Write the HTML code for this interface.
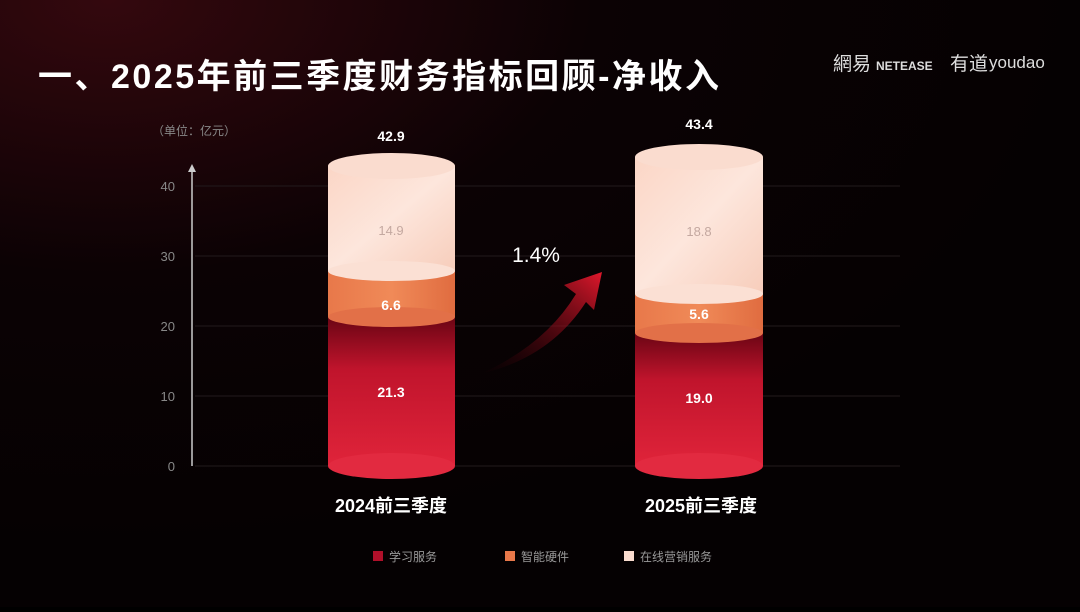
<!DOCTYPE html>
<html><head><meta charset="utf-8"><style>
html,body{margin:0;padding:0;background:#000;}
body{width:1080px;height:607px;overflow:hidden;font-family:"Liberation Sans","Noto Sans CJK SC",sans-serif;}
</style></head><body>
<svg width="1080" height="607" viewBox="0 0 1080 607" xmlns="http://www.w3.org/2000/svg" font-family="Liberation Sans, Noto Sans CJK SC, sans-serif">
<defs>
<radialGradient id="bg" cx="0.1" cy="0.0" r="0.9">
<stop offset="0" stop-color="#34080e"/><stop offset="0.5" stop-color="#0b0204"/><stop offset="1" stop-color="#050102"/></radialGradient>
<linearGradient id="red" x1="0" y1="0" x2="0" y2="1"><stop offset="0" stop-color="#6a0514"/><stop offset="0.35" stop-color="#c0142c"/><stop offset="1" stop-color="#e0243a"/></linearGradient>
<linearGradient id="org" x1="0" y1="0" x2="1" y2="0"><stop offset="0" stop-color="#e8784a"/><stop offset="0.5" stop-color="#f08a58"/><stop offset="1" stop-color="#e06c40"/></linearGradient>
<linearGradient id="pnk" x1="0" y1="0" x2="1" y2="1"><stop offset="0" stop-color="#fbd6c6"/><stop offset="0.5" stop-color="#fde6dc"/><stop offset="1" stop-color="#f7cdbb"/></linearGradient>
<linearGradient id="arr" x1="0" y1="1" x2="1" y2="0"><stop offset="0" stop-color="#3a0008" stop-opacity="0"/><stop offset="1" stop-color="#e0182c"/></linearGradient>
</defs>
<rect width="1080" height="607" fill="url(#bg)"/>
<text x="38" y="88" font-size="34" font-weight="bold" fill="#fff" letter-spacing="2.5">一、2025年前三季度财务指标回顾-净收入</text>
<text x="833" y="70" font-size="19" fill="#ddd">網易</text><text x="876" y="70" font-size="12" font-weight="bold" fill="#ddd">NETEASE</text>
<text x="950" y="70" font-size="19" fill="#ddd">有道</text><text x="989" y="68" font-size="17" fill="#ddd">youdao</text>
<text x="152" y="135" font-size="12" fill="#888">（单位：亿元）</text>
<g stroke="#221a1c" stroke-width="1">
<line x1="195" y1="186" x2="900" y2="186"/><line x1="195" y1="256" x2="900" y2="256"/><line x1="195" y1="326" x2="900" y2="326"/><line x1="195" y1="396" x2="900" y2="396"/><line x1="195" y1="466" x2="900" y2="466"/></g>
<line x1="192" y1="466" x2="192" y2="170" stroke="#ccc" stroke-width="1.5"/><path d="M188,172 L192,164 L196,172Z" fill="#ccc"/>
<g font-size="13" fill="#888" text-anchor="end"><text x="175" y="191">40</text><text x="175" y="261">30</text><text x="175" y="331">20</text><text x="175" y="401">10</text><text x="175" y="471">0</text></g>
<g>
<rect x="328" y="317" width="127" height="149" fill="url(#red)"/><ellipse cx="391.5" cy="466" rx="63.5" ry="13" fill="#e22a40"/>
<rect x="328" y="271" width="127" height="46" fill="url(#org)"/><ellipse cx="391.5" cy="317" rx="63.5" ry="10" fill="#e27048"/>
<rect x="328" y="166" width="127" height="105" fill="url(#pnk)"/><ellipse cx="391.5" cy="271" rx="63.5" ry="10" fill="#fbe0d4"/>
<ellipse cx="391.5" cy="166" rx="63.5" ry="13" fill="#fadccf"/>
</g>
<text x="391" y="141" font-size="14" font-weight="bold" fill="#fff" text-anchor="middle">42.9</text>
<text x="391" y="235" font-size="13" fill="#c4a8a0" text-anchor="middle">14.9</text>
<text x="391" y="310" font-size="14" font-weight="bold" fill="#fff" text-anchor="middle">6.6</text>
<text x="391" y="397" font-size="14" font-weight="bold" fill="#fff" text-anchor="middle">21.3</text>
<g>
<rect x="635" y="333" width="128" height="133" fill="url(#red)"/><ellipse cx="699" cy="466" rx="64" ry="13" fill="#e22a40"/>
<rect x="635" y="294" width="128" height="39" fill="url(#org)"/><ellipse cx="699" cy="333" rx="64" ry="10" fill="#e27048"/>
<rect x="635" y="157" width="128" height="137" fill="url(#pnk)"/><ellipse cx="699" cy="294" rx="64" ry="10" fill="#fbe0d4"/>
<ellipse cx="699" cy="157" rx="64" ry="13" fill="#fadccf"/>
</g>
<text x="699" y="129" font-size="14" font-weight="bold" fill="#fff" text-anchor="middle">43.4</text>
<text x="699" y="236" font-size="13" fill="#c4a8a0" text-anchor="middle">18.8</text>
<text x="699" y="319" font-size="14" font-weight="bold" fill="#fff" text-anchor="middle">5.6</text>
<text x="699" y="403" font-size="14" font-weight="bold" fill="#fff" text-anchor="middle">19.0</text>
<path d="M480,374 Q545,345 576,294 L564,285 L602,272 L594,310 L586,302 Q550,358 480,374Z" fill="url(#arr)"/>
<text x="536" y="262" font-size="21" fill="#fff" text-anchor="middle">1.4%</text>
<text x="391" y="512" font-size="18" font-weight="bold" fill="#fff" text-anchor="middle">2024前三季度</text>
<text x="701" y="512" font-size="18" font-weight="bold" fill="#fff" text-anchor="middle">2025前三季度</text>
<g font-size="12" fill="#999">
<rect x="373" y="551" width="10" height="10" fill="#b0102a"/><text x="389" y="561">学习服务</text>
<rect x="505" y="551" width="10" height="10" fill="#e8784a"/><text x="521" y="561">智能硬件</text>
<rect x="624" y="551" width="10" height="10" fill="#fadccf"/><text x="640" y="561">在线营销服务</text>
</g>
</svg>
</body></html>
